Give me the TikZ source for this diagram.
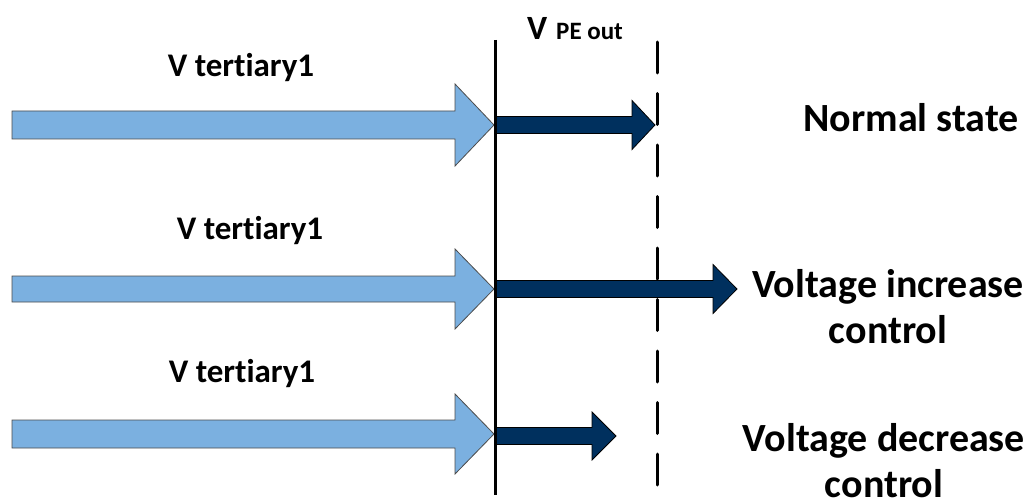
\documentclass[tikz,border=0pt]{standalone}
\usepackage{fontspec}
\setmainfont{Carlito}[Ligatures=NoCommon]
\definecolor{lightbl}{RGB}{123,176,224}
\definecolor{darkbl}{RGB}{0,48,94}
\tikzset{
  bigarrow/.style={fill=lightbl,draw=black!70,line width=0.8pt},
  smallarrow/.style={fill=darkbl,draw=black,line width=0.8pt},
  lbl/.style={font=\bfseries\fontsize{33}{38}\selectfont,inner sep=0pt},
  statelbl/.style={font=\bfseries\fontsize{40}{46}\selectfont,inner sep=0pt,align=center},
}
% #1 x start, #2 head start, #3 tip, #4 y centre, #5 half shaft, #6 half head
\newcommand\blockarr[7]{%
  \path[#7] (#1,#4-#5) -- (#2,#4-#5) -- (#2,#4-#6) -- (#3,#4) -- (#2,#4+#6) -- (#2,#4+#5) -- (#1,#4+#5) -- cycle;}
\begin{document}
\begin{tikzpicture}[x=1pt,y=-1pt]
\useasboundingbox (0,0) rectangle (1031,500);
% big arrows
\blockarr{12}{455}{494}{125}{14}{41}{bigarrow}
\blockarr{12}{455}{494}{289}{13}{40}{bigarrow}
\blockarr{12}{455}{494}{434}{14}{40}{bigarrow}
% dark arrows
\blockarr{495}{632}{655}{125}{8.5}{24.5}{smallarrow}
\blockarr{495}{713}{737}{289}{8.5}{24.5}{smallarrow}
\blockarr{495}{592}{616}{436}{8.5}{24}{smallarrow}
% vertical lines
\coordinate (st) at (495,40);
\coordinate (sb) at (495,495);
\draw[line width=3pt] (st) -- (sb);
\coordinate (dt) at (657,42);
\coordinate (db) at (657,500);
\draw[line width=3pt,dash pattern=on 31pt off 20.5pt,line cap=round] (dt) -- (db);
% labels
\node[lbl] (t1) at (241,68) {V tertiary1};
\node[lbl] (t2) at (250,231) {V tertiary1};
\node[lbl] (t3) at (242,374) {V tertiary1};
\node[font=\bfseries\fontsize{34}{38}\selectfont,inner sep=0pt,anchor=base west] (vv) at (527,40) {V};
\node[font=\bfseries\fontsize{25}{28}\selectfont,inner sep=0pt,anchor=base west] (pe) at (556,40) {PE out};
\node[statelbl] (s1) at (911,118) {Normal state};
\node[statelbl] (s2) at (888,307) {Voltage increase\\control};
\node[statelbl] (s3) at (884,461) {Voltage decrease\\control};
\end{tikzpicture}
\end{document}
